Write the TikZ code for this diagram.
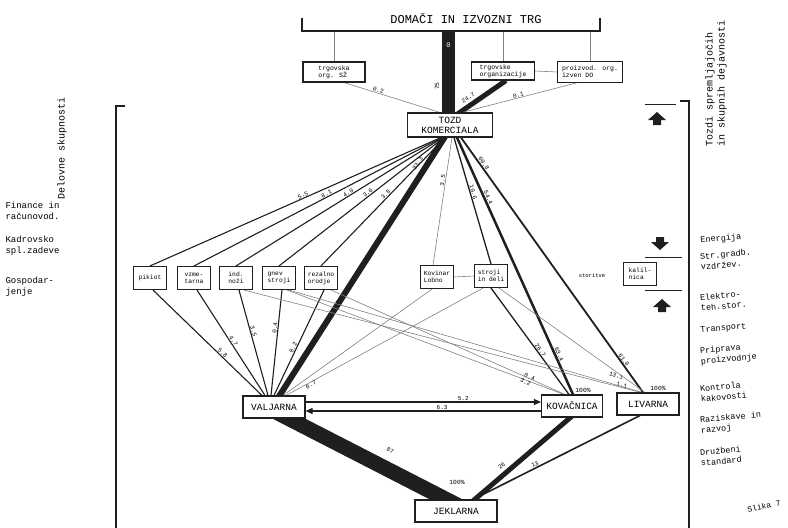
\documentclass[tikz,border=0pt]{standalone}
\usepackage{fontspec}
\setmainfont{Liberation Mono}
\usetikzlibrary{arrows.meta,backgrounds}

\begin{document}
\begin{tikzpicture}[x=1pt,y=-1pt,
        caja/.style={draw=tinta,line width=1.1pt,fill=white,inner sep=1pt,align=left},
        cajita/.style={caja,minimum width=33pt,minimum height=23pt,font=\fontsize{6.3}{7}\selectfont},
        planta/.style={caja,minimum height=22pt,font=\fontsize{9.5}{10}\selectfont},
        cifra/.style={text=black,font=\fontsize{6}{6}\selectfont,sloped,above,inner sep=0.5pt},
        flujo/.style={tinta,line width=1.1pt},
        fina/.style={gris,line width=0.6pt},
        texto/.style={anchor=west,align=left,font=\fontsize{9}{11}\selectfont}]
        %colores
        \colorlet{tinta}{black!88}
        \colorlet{gris}{black!50}

        \useasboundingbox (0,0) rectangle (788,528);

        % Trg zgoraj
        \node[font=\fontsize{12}{12}\selectfont] (trg) at (466,19) {DOMAČI IN IZVOZNI TRG};
        \coordinate (tl) at (302,31);
        \coordinate (tr) at (600,31);
        \coordinate (m0) at (448.5,31);
        \draw[line width=1.1pt,tinta] ([yshift=13pt]tl) -- (tl) -- (tr) -- ([yshift=13pt]tr);
        \node[caja,minimum width=62pt,minimum height=20pt,font=\fontsize{6.5}{7}\selectfont] (ssz) at (334,72) {trgovska\\org.  SŽ};
        \node[caja,minimum width=63pt,minimum height=18pt,font=\fontsize{6.5}{7}\selectfont] (tro) at (503,71) {trgovske\\organizacije};
        \node[caja,minimum width=65pt,minimum height=21pt,font=\fontsize{6.5}{7}\selectfont] (pio) at (590,72) {proizvod. org.\\izven  DO};
        \node[caja,minimum width=85pt,minimum height=24pt,align=center,font=\fontsize{9.5}{10}\selectfont] (kom) at (450,125) {TOZD\\KOMERCIALA};

        % Obrati
        \node[cajita] (p1) at (150,278) {pikiot};
        \node[cajita] (p2) at (194,278) {vzme-\\tarna};
        \node[cajita] (p3) at (236,278) {ind.\\noži};
        \node[cajita] (p4) at (279,278) {gnev\\stroji};
        \node[cajita] (p5) at (321,278) {rezalno\\orodje};
        \node[cajita] (p6) at (437,277) {Kovinar\\Lobno};
        \node[cajita] (p7) at (491,276) {stroji\\in deli};
        \node[cajita] (kal) at (640,274) {kalil-\\nica};
        \node[font=\fontsize{5.5}{5.5}\selectfont] (sto) at (592,276) {storitve};

        % Tozdi
        \node[planta,minimum width=62pt] (val) at (274,407) {VALJARNA};
        \node[planta,minimum width=61pt] (kov) at (572,406) {KOVAČNICA};
        \node[planta,minimum width=62pt] (liv) at (648,404) {LIVARNA};
        \node[planta,minimum width=82pt] (jek) at (456,511) {JEKLARNA};

        \begin{scope}[on background layer]
            % trg
            \draw[line width=13pt,tinta] (m0) -- node[pos=0.18,white,font=\fontsize{7}{7}\selectfont]{0} (m0 |- kom.north);
            \draw[fina] (ssz.north) -- (ssz.north |- tl);
            \draw[fina] (tro.north) -- (tro.north |- tl);
            \draw[fina] (pio.north) -- (pio.north |- tl);
            \draw[fina] (tro.east) -- (pio.west);
            \draw[fina] ([xshift=10pt]ssz.south) -- node[cifra,pos=0.35]{0.2} ([xshift=-10pt]kom.north);
            \draw[tinta,line width=5pt] ([xshift=3pt]tro.south) -- node[cifra,pos=0.65,above=2pt]{24.7} ([xshift=4pt,yshift=-4pt]kom.north);
            \draw[fina] ([xshift=-14pt]pio.south) -- node[cifra,pos=0.5]{0.1} ([xshift=12pt]kom.north);

            % abanico
            \foreach \p/\c/\n/\q in {p1/5.5/-9/0.47, p2/8.1/-8/0.46, p3/4.0/-7/0.45, p4/3.6/-6/0.45, p5/3.8/-5/0.46}
                \draw[flujo] ([xshift=\n pt]kom.south) -- node[cifra,pos=\q]{\c} (\p.north);
            \foreach \p/\c/\n/\q in {p1/5.8/-12/0.62, p2/4.7/-9/0.5, p3/3.5/-6/0.4, p4/0.4/-3/0.36, p5/0.2/0/0.56}
                \draw[flujo] ([xshift=3pt]\p.south) -- node[cifra,pos=\q]{\c} ([xshift=\n pt]val.north);
            \draw[tinta,line width=6pt] ([xshift=-3pt,yshift=4pt]kom.south) -- node[cifra,pos=0.13,above=3pt]{33.3} ([xshift=3pt,yshift=-4pt]val.north);

            \draw[fina] ([xshift=2pt]kom.south) -- node[cifra,pos=0.34]{3.5} ([xshift=-4pt]p6.north);
            \draw[tinta,line width=1.3pt] ([xshift=4pt]kom.south) -- node[cifra,pos=0.44]{10.6} (p7.north);
            \draw[tinta,line width=1.3pt] (p7.south) -- node[cifra,pos=0.6]{26.7} ([xshift=-3pt]kov.north);
            \draw[tinta,line width=2.5pt] ([xshift=7pt]kom.south) -- node[cifra,pos=0.24]{54.4} node[cifra,pos=0.85]{63.4} ([xshift=1pt]kov.north);
            \draw[tinta,line width=1.8pt] ([xshift=11pt]kom.south) -- node[cifra,pos=0.11]{60.8} node[cifra,pos=0.88]{61.0} ([xshift=-5pt]liv.north);

            \draw[fina] ([xshift=8pt]p3.south) -- node[cifra,pos=0.95]{1.1} ([xshift=-7pt]liv.north);
            \draw[fina] ([xshift=10pt]p4.south) -- node[cifra,pos=0.92,above=6pt]{13.1} ([xshift=-6pt]liv.north);
            \draw[fina] ([xshift=8pt]p4.south) -- node[cifra,pos=0.87,above=1.5pt]{0.4} ([xshift=-8pt]kov.north);
            \draw[fina] ([xshift=10pt]p5.south) -- node[cifra,pos=0.84,below=2pt]{3.2} ([xshift=-7pt]kov.north);
            \draw[fina] ([xshift=-5pt]p6.south) -- ([xshift=9pt]val.north);
            \draw[fina] ([xshift=-8pt]p7.south) -- node[cifra,pos=0.88,below]{0.7} ([xshift=12pt]val.north);
            \draw[fina] ([xshift=8pt]p7.south) -- ([xshift=-3pt]liv.north);
            \draw[fina] (p6.east) -- (p7.west);

            % jeklarna
            \draw[tinta,line width=15pt] ([xshift=3pt,yshift=6pt]val.south) -- node[cifra,pos=0.58,above=8pt]{87} ([xshift=2pt,yshift=-6pt]jek.north);
            \draw[tinta,line width=5pt] ([xshift=14pt,yshift=-4pt]jek.north) -- node[cifra,pos=0.35,above=3pt]{20} ([xshift=3pt,yshift=4pt]kov.south);
            \draw[tinta,line width=1.6pt] ([xshift=17pt]jek.north) -- node[cifra,pos=0.38]{13} ([xshift=-8pt]liv.south);
        \end{scope}
        \node[rotate=90,font=\fontsize{6.3}{6.3}\selectfont] (n75) at (437,86) {75};
        \node[font=\fontsize{6.3}{6.3}\selectfont] (c1) at ([xshift=1pt,yshift=17pt]jek.north) {100\%};
        \node[font=\fontsize{6.3}{6.3}\selectfont] (c2) at ([xshift=11pt,yshift=4pt]kov.north) {100\%};
        \node[font=\fontsize{6.3}{6.3}\selectfont] (c3) at ([xshift=10pt,yshift=4pt]liv.north) {100\%};

        % valjarna - kovacnica
        \path ([yshift=5pt]val.east) coordinate (v1) ([yshift=-5pt]kov.west) coordinate (k1);
        \draw[line width=1.1pt,tinta,-{Triangle[length=7pt,width=6pt]}] (v1) -- node[cifra,pos=0.67]{5.2} (v1 -| kov.west);
        \draw[line width=1.1pt,tinta,-{Triangle[length=7pt,width=6pt]}] (k1) -- node[cifra,pos=0.42]{6.3} (k1 -| val.east);

        % lado izquierdo
        \draw[line width=1.1pt,tinta] (125,106) -- (116,106) -- (116,528);
        \node[rotate=90,anchor=west,font=\fontsize{10}{12}\selectfont] (del) at (62,203) {Delovne skupnosti};
        \node[texto] (fin) at (2,211) {Finance in\\računovod.};
        \node[texto] (kad) at (2,246) {Kadrovsko\\spl.zadeve};
        \node[texto] (gos) at (2,287) {Gospodar-\\jenje};

        % lado derecho
        \draw[line width=1.1pt,tinta] (680,101) -- (689,101) -- (689,528);
        \draw[tinta] (645,104) -- (676,104);
        \draw[tinta] (645,257) -- (682,257);
        \draw[tinta] (645,290) -- (682,290);
        \foreach \x/\y/\s in {657/119/1, 660/243/-1, 662/306/1}
            \fill[tinta,shift={(\x,\y)},yscale=\s] (-9,1) -- (0,-7) -- (9,1) -- (4,1) -- (4,6) -- (-4,6) -- (-4,1) -- cycle;
        \node[rotate=90,anchor=west,align=left,font=\fontsize{10}{12}\selectfont] (toz) at (716,150) {Tozdi spremljajočih\\in skupnih dejavnosti};
        \foreach \y/\txt [count=\i] in {241/Energija, 262/{Str.gradb.\\vzdržev.}, 303/{Elektro-\\teh.stor.}, 331/Transport, 357/{Priprava\\proizvodnje}, 394/{Kontrola\\kakovosti}, 426/{Raziskave in\\razvoj}, 458/{Družbeni\\standard}}
            \node[texto,rotate=5,font=\fontsize{8.5}{10.5}\selectfont] (s\i) at (697,\y) {\txt};
        \node[rotate=12,font=\fontsize{8}{8}\selectfont] (sl) at (764,506) {Slika 7};
\end{tikzpicture}
\end{document}
